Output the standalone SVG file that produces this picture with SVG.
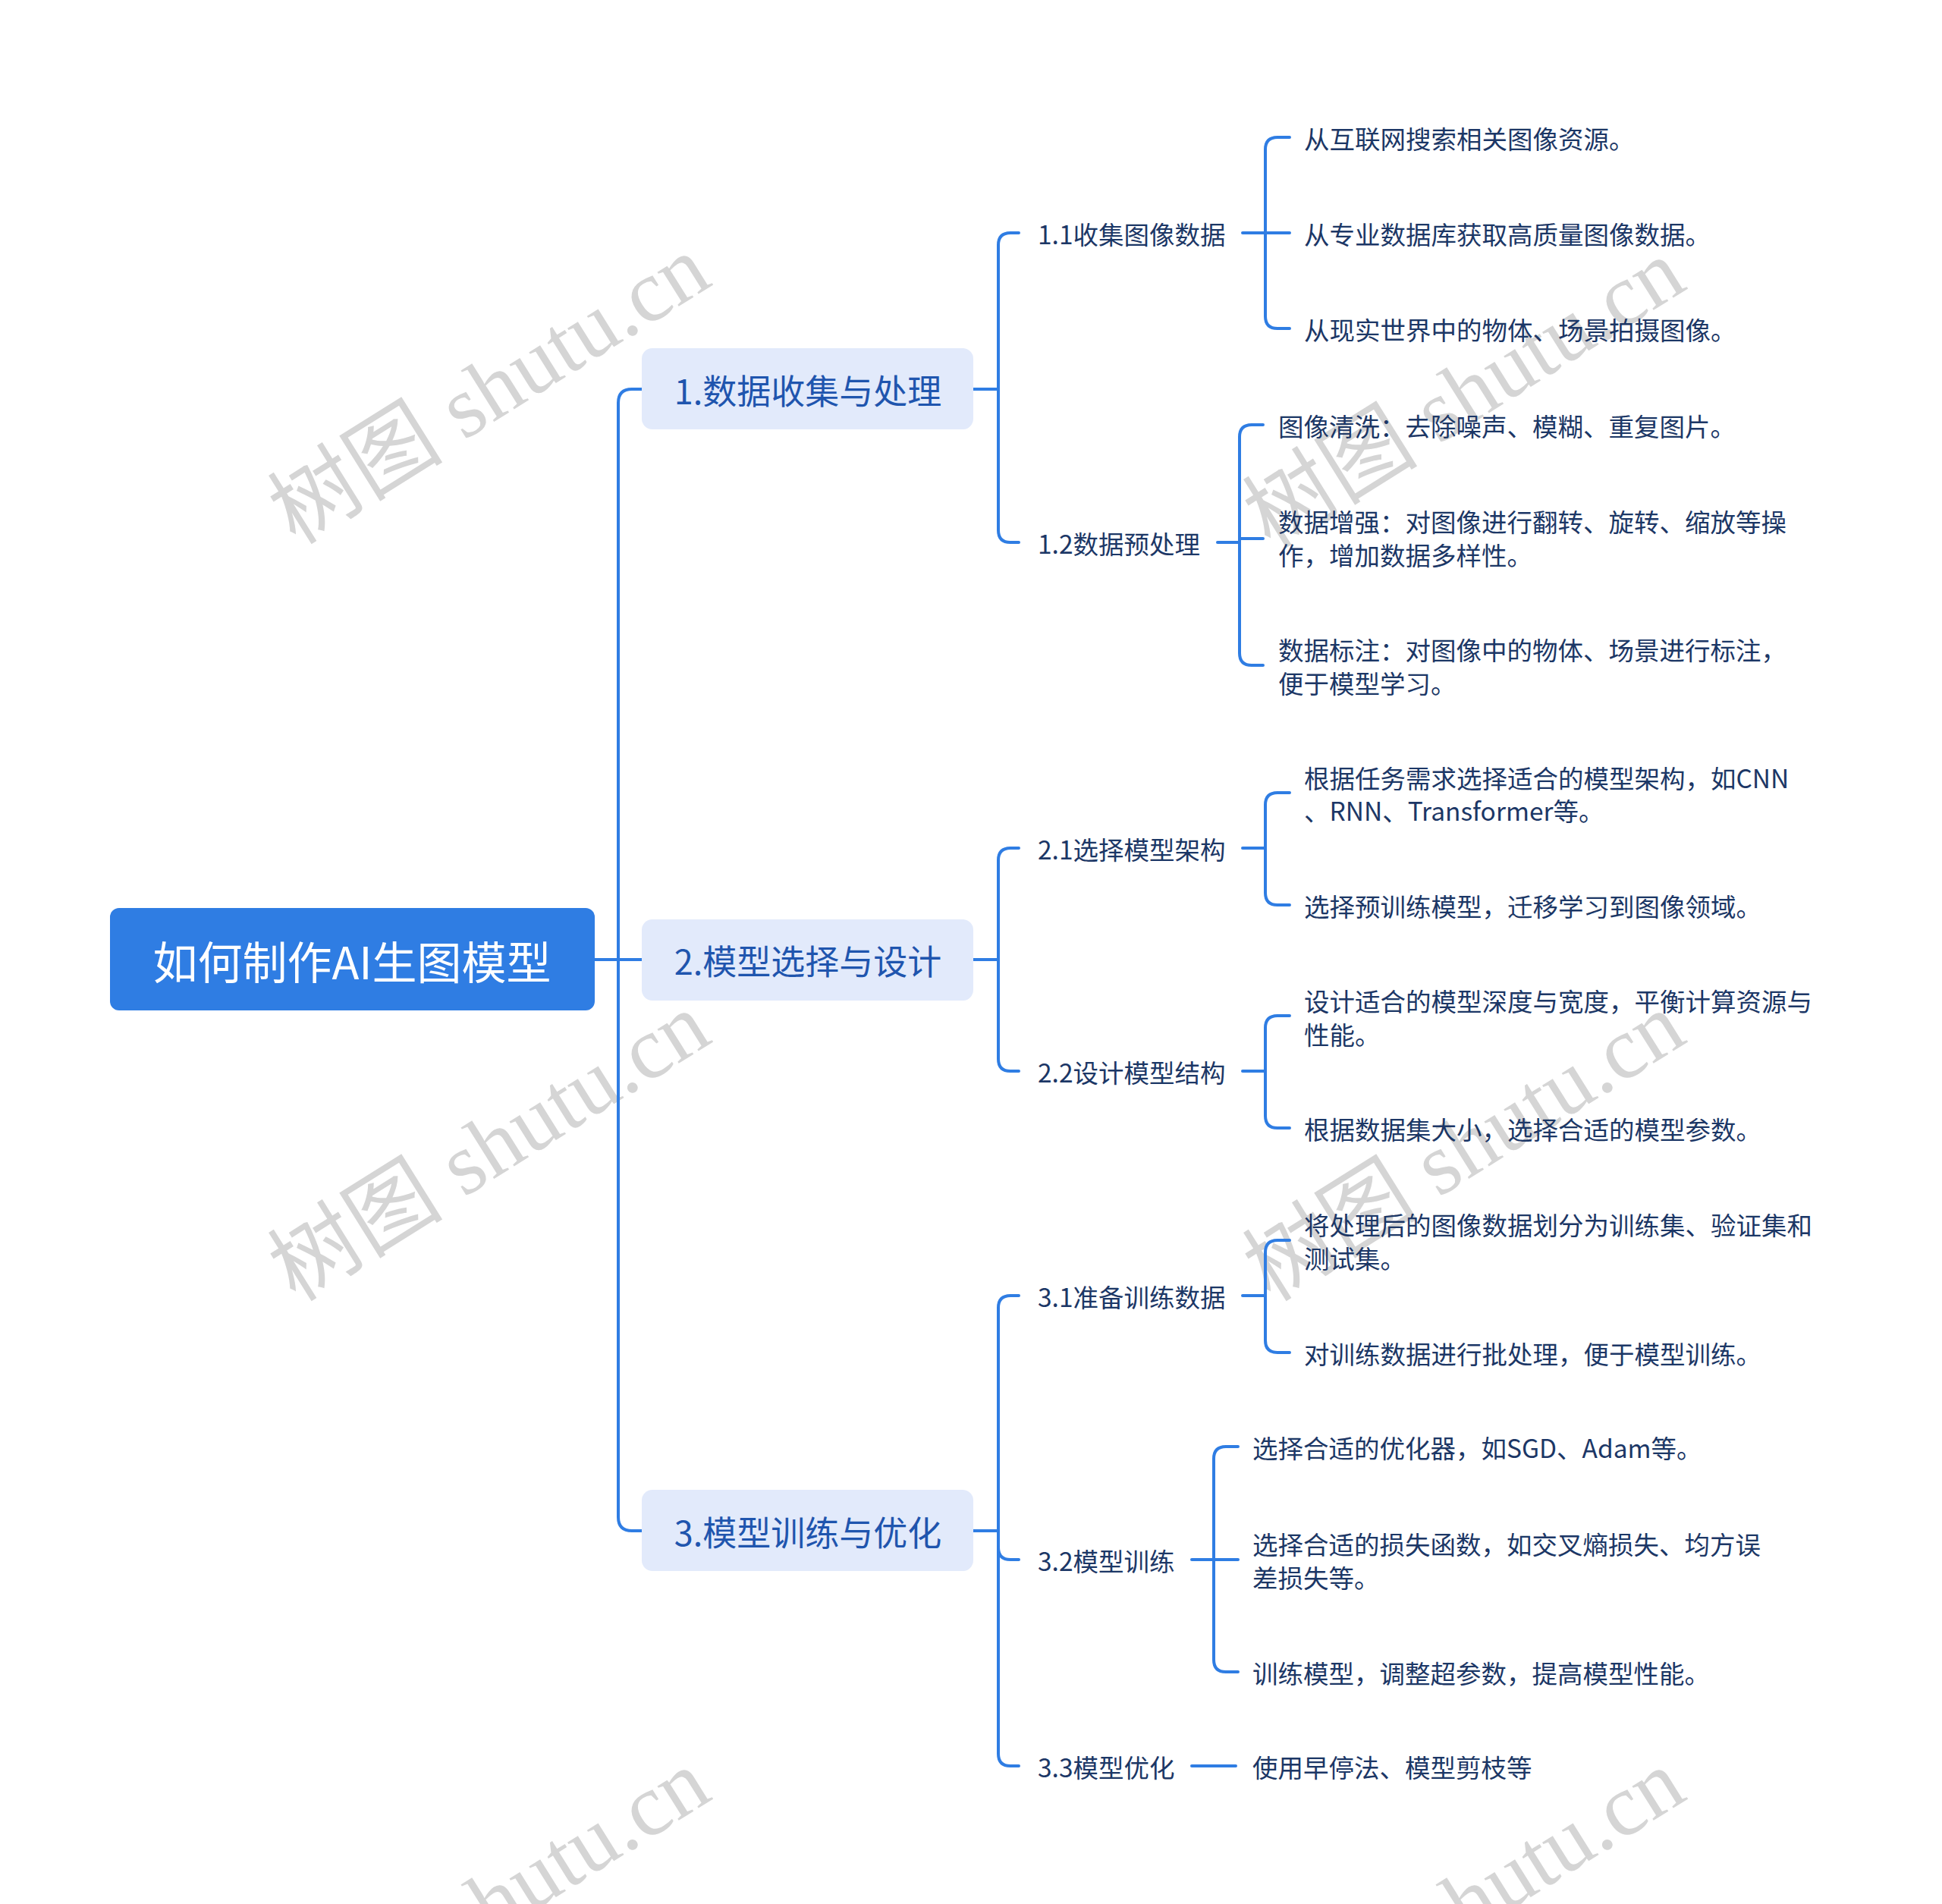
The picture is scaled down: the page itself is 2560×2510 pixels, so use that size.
<svg xmlns="http://www.w3.org/2000/svg" width="2560" height="2510" viewBox="0 0 2560 2510">
<style>
.wm{font-family:"Liberation Serif","Noto Sans CJK SC",serif;font-size:116px;fill:#d5d5d5;text-anchor:middle;dominant-baseline:central}
.root{fill:#2f7de3}
.rt{font-family:"Noto Sans CJK SC","Noto Sans",sans-serif;font-size:59px;fill:#ffffff;text-anchor:middle;dominant-baseline:central}
.l1{fill:#e2eafb}
.l1t{font-family:"Noto Sans CJK SC","Noto Sans",sans-serif;font-size:45px;fill:#1f55ae;text-anchor:middle;dominant-baseline:central}
.t{font-family:"Noto Sans CJK SC","Noto Sans",sans-serif;font-size:33.5px;fill:#1c3766;dominant-baseline:central}
.c{fill:none;stroke:#2f7de3;stroke-width:4;stroke-linecap:round;stroke-linejoin:round}
</style>
<rect width="2560" height="2510" fill="#ffffff"/>
<g id="watermarks">
<text class="wm" transform="translate(645,514) rotate(-32)">树图 shutu.cn</text>
<text class="wm" transform="translate(1930,519) rotate(-32)">树图 shutu.cn</text>
<text class="wm" transform="translate(645,1512) rotate(-32)">树图 shutu.cn</text>
<text class="wm" transform="translate(1930,1512) rotate(-32)">树图 shutu.cn</text>
<text class="wm" transform="translate(645,2510) rotate(-32)">树图 shutu.cn</text>
<text class="wm" transform="translate(1930,2510) rotate(-32)">树图 shutu.cn</text>
</g>
<g id="connectors">
<path class="c" d="M784,1265 H846"/>
<path class="c" d="M846,513 H833 Q815,513 815,531 V2000 Q815,2018 833,2018 H846"/>
<path class="c" d="M1283,513 H1316"/>
<path class="c" d="M1343,307 H1332 Q1316,307 1316,323 V699 Q1316,715 1332,715 H1343"/>
<path class="c" d="M1283,1265 H1316"/>
<path class="c" d="M1343,1118 H1332 Q1316,1118 1316,1134 V1396 Q1316,1412 1332,1412 H1343"/>
<path class="c" d="M1283,2018 H1316"/>
<path class="c" d="M1343,1708 H1332 Q1316,1708 1316,1724 V2312 Q1316,2328 1332,2328 H1343"/>
<path class="c" d="M1316,2040 Q1316,2056 1332,2056 H1343"/>
<path class="c" d="M1638,307 H1700"/>
<path class="c" d="M1700,181 H1684 Q1668,181 1668,197 V417 Q1668,433 1684,433 H1700"/>
<path class="c" d="M1605,715 H1634"/>
<path class="c" d="M1634,710 H1665"/>
<path class="c" d="M1665,560 H1650 Q1634,560 1634,576 V861 Q1634,877 1650,877 H1665"/>
<path class="c" d="M1638,1118 H1668"/>
<path class="c" d="M1700,1045 H1684 Q1668,1045 1668,1061 V1177 Q1668,1193 1684,1193 H1700"/>
<path class="c" d="M1638,1412 H1668"/>
<path class="c" d="M1700,1339 H1684 Q1668,1339 1668,1355 V1471 Q1668,1487 1684,1487 H1700"/>
<path class="c" d="M1638,1708 H1668"/>
<path class="c" d="M1700,1635 H1684 Q1668,1635 1668,1651 V1767 Q1668,1783 1684,1783 H1700"/>
<path class="c" d="M1571,2056 H1632"/>
<path class="c" d="M1632,1907 H1616 Q1600,1907 1600,1923 V2188 Q1600,2204 1616,2204 H1632"/>
<path class="c" d="M1571,2328 H1629"/>
</g>
<g id="root">
<rect class="root" x="145" y="1197" width="639" height="135" rx="12"/>
<text class="rt" x="464" y="1265">如何制作AI生图模型</text>
</g>
<g id="n1">
<rect class="l1" x="846" y="459" width="437" height="107" rx="14"/>
<text class="l1t" x="1065" y="513">1.数据收集与处理</text>
</g>
<g id="n2">
<rect class="l1" x="846" y="1212" width="437" height="107" rx="14"/>
<text class="l1t" x="1065" y="1265">2.模型选择与设计</text>
</g>
<g id="n3">
<rect class="l1" x="846" y="1964" width="437" height="107" rx="14"/>
<text class="l1t" x="1065" y="2018">3.模型训练与优化</text>
</g>
<g id="n11"><text class="t" x="1368" y="307">1.1收集图像数据</text></g>
<g id="n12"><text class="t" x="1368" y="715">1.2数据预处理</text></g>
<g id="n21"><text class="t" x="1368" y="1118">2.1选择模型架构</text></g>
<g id="n22"><text class="t" x="1368" y="1412">2.2设计模型结构</text></g>
<g id="n31"><text class="t" x="1368" y="1708">3.1准备训练数据</text></g>
<g id="n32"><text class="t" x="1368" y="2056">3.2模型训练</text></g>
<g id="n33"><text class="t" x="1368" y="2328">3.3模型优化</text></g>
<g id="n111"><text class="t" x="1719" y="181">从互联网搜索相关图像资源。</text></g>
<g id="n112"><text class="t" x="1719" y="307">从专业数据库获取高质量图像数据。</text></g>
<g id="n113"><text class="t" x="1719" y="433">从现实世界中的物体、场景拍摄图像。</text></g>
<g id="n121"><text class="t" x="1685" y="560">图像清洗：去除噪声、模糊、重复图片。</text></g>
<g id="n122"><text class="t" x="1685" y="686">数据增强：对图像进行翻转、旋转、缩放等操</text><text class="t" x="1685" y="730">作，增加数据多样性。</text></g>
<g id="n123"><text class="t" x="1685" y="855">数据标注：对图像中的物体、场景进行标注，</text><text class="t" x="1685" y="899">便于模型学习。</text></g>
<g id="n211"><text class="t" x="1719" y="1024">根据任务需求选择适合的模型架构，如CNN</text><text class="t" x="1719" y="1067">、RNN、Transformer等。</text></g>
<g id="n212"><text class="t" x="1719" y="1193">选择预训练模型，迁移学习到图像领域。</text></g>
<g id="n221"><text class="t" x="1719" y="1318">设计适合的模型深度与宽度，平衡计算资源与</text><text class="t" x="1719" y="1362">性能。</text></g>
<g id="n222"><text class="t" x="1719" y="1487">根据数据集大小，选择合适的模型参数。</text></g>
<g id="n311"><text class="t" x="1719" y="1613">将处理后的图像数据划分为训练集、验证集和</text><text class="t" x="1719" y="1657">测试集。</text></g>
<g id="n312"><text class="t" x="1719" y="1783">对训练数据进行批处理，便于模型训练。</text></g>
<g id="n321"><text class="t" x="1651" y="1907">选择合适的优化器，如SGD、Adam等。</text></g>
<g id="n322"><text class="t" x="1651" y="2034">选择合适的损失函数，如交叉熵损失、均方误</text><text class="t" x="1651" y="2078">差损失等。</text></g>
<g id="n323"><text class="t" x="1651" y="2204">训练模型，调整超参数，提高模型性能。</text></g>
<g id="n331"><text class="t" x="1651" y="2328">使用早停法、模型剪枝等</text></g>
</svg>
